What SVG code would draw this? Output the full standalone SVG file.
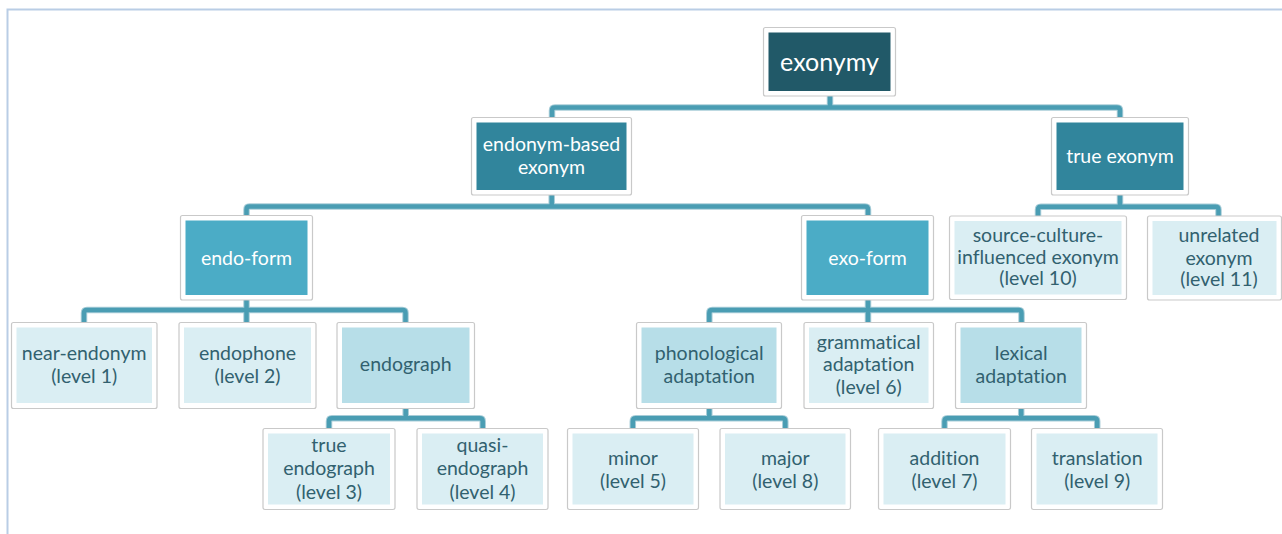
<svg xmlns="http://www.w3.org/2000/svg" width="1282" height="534" viewBox="0 0 1282 534">
<style>
.o{fill:#fff;stroke:#c9c9c9;stroke-width:1.2}
.d0{fill:#215968}.d1{fill:#31859c}.d2{fill:#4bacc6}.l1{fill:#b7dee8}.l2{fill:#daeef3}
text{font-family:Lato,"Liberation Sans",sans-serif;text-anchor:middle;font-size:19.5px;font-variant-ligatures:none}
.w{fill:#ffffff}.k{fill:#31616f}
.cu{fill:none;stroke:#a8cdd8;stroke-width:6.5;stroke-linejoin:round}
.cc{fill:none;stroke:#4a9db3;stroke-width:4.5;stroke-linejoin:round}
</style>
<defs>
<path id="conn" d="M830,96 V107.5 M552,117 V110.5 Q552,107.5 555,107.5 H1117 Q1120,107.5 1120,110.5 V117
M551.7,195 V206.5 M246.5,215 V209.5 Q246.5,206.5 249.5,206.5 H865 Q868,206.5 868,209.5 V215.5
M1120,195 V206.7 M1038,216 V209.7 Q1038,206.7 1041,206.7 H1215.5 Q1218.5,206.7 1218.5,209.7 V216
M246.5,300 V322.5 M84,322.5 V313 Q84,310 87,310 H402.5 Q405.5,310 405.5,313 V322.5
M868,300 V322.5 M709.3,322.5 V313 Q709.3,310 712.3,310 H1018.5 Q1021.5,310 1021.5,313 V322.5
M405.7,408.5 V418.3 M329,428.5 V421.3 Q329,418.3 332,418.3 H479.7 Q482.7,418.3 482.7,421.3 V428.5
M709.3,408.5 V418.3 M632.8,428.5 V421.3 Q632.8,418.3 635.8,418.3 H782.3 Q785.3,418.3 785.3,421.3 V428.5
M1021.2,408.5 V418.3 M944.5,428.5 V421.3 Q944.5,418.3 947.5,418.3 H1094.2 Q1097.2,418.3 1097.2,421.3 V428.5"/>
</defs>
<g id="frame"><path d="M7.5,534 V9.5 H1282" fill="none" stroke="#b9cde5" stroke-width="2"/></g>
<g id="connectors">
<use href="#conn" class="cu"/>
<use href="#conn" class="cc"/>
</g>
<g id="exonymy"><rect class="o" x="763.5" y="27.5" width="132" height="68.5" rx="2"/><rect class="d0" x="768.5" y="32.5" width="122" height="58.5"/><text class="w" x="829.5" y="70.5" style="font-size:25px">exonymy</text></g>
<g id="endonym-based"><rect class="o" x="471.5" y="117.5" width="160" height="77.5" rx="2"/><rect class="d1" x="476.5" y="122.5" width="150" height="67.5"/><text class="w" x="551.5" y="150.5">endonym-based</text><text class="w" x="551.5" y="173.5">exonym</text></g>
<g id="true-exonym"><rect class="o" x="1051.5" y="117.5" width="137" height="77.5" rx="2"/><rect class="d1" x="1056.5" y="122.5" width="127" height="67.5"/><text class="w" x="1120" y="162.5">true exonym</text></g>
<g id="endo-form"><rect class="o" x="180.5" y="215.5" width="132" height="84.5" rx="2"/><rect class="d2" x="185.5" y="220.5" width="122" height="74.5"/><text class="w" x="246.5" y="265">endo-form</text></g>
<g id="exo-form"><rect class="o" x="801.5" y="215.5" width="132" height="84.5" rx="2"/><rect class="d2" x="806.5" y="220.5" width="122" height="74.5"/><text class="w" x="867.5" y="265">exo-form</text></g>
<g id="source-culture"><rect class="o" x="949.5" y="216" width="177" height="83.5" rx="2"/><rect class="l2" x="954.5" y="221" width="167" height="73.5"/><text class="k" x="1038" y="241.5">source-culture-</text><text class="k" x="1038" y="263.5">influenced exonym</text><text class="k" x="1038" y="285">(level 10)</text></g>
<g id="unrelated"><rect class="o" x="1147.5" y="216" width="134" height="84" rx="2"/><rect class="l2" x="1152.5" y="221" width="124" height="74"/><text class="k" x="1219" y="241.5">unrelated</text><text class="k" x="1219" y="264.5">exonym</text><text class="k" x="1219" y="286">(level 11)</text></g>
<g id="near-endonym"><rect class="o" x="11.5" y="322.5" width="145.5" height="86" rx="2"/><rect class="l2" x="16.5" y="327.5" width="135.5" height="75.5"/><text class="k" x="84.2" y="360">near-endonym</text><text class="k" x="84.2" y="383">(level 1)</text></g>
<g id="endophone"><rect class="o" x="179" y="322.5" width="137" height="86" rx="2"/><rect class="l2" x="184" y="327.5" width="127" height="75.5"/><text class="k" x="247.5" y="360">endophone</text><text class="k" x="247.5" y="383">(level 2)</text></g>
<g id="endograph"><rect class="o" x="337" y="322.5" width="137.5" height="86" rx="2"/><rect class="l1" x="342" y="327.5" width="127.5" height="75.5"/><text class="k" x="405.7" y="371">endograph</text></g>
<g id="true-endograph"><rect class="o" x="263" y="428.5" width="132" height="81" rx="2"/><rect class="l2" x="268" y="433.5" width="122" height="71"/><text class="k" x="329" y="451.5">true</text><text class="k" x="329" y="475">endograph</text><text class="k" x="329" y="498.5">(level 3)</text></g>
<g id="quasi-endograph"><rect class="o" x="417" y="428.5" width="131" height="81" rx="2"/><rect class="l2" x="422" y="433.5" width="121" height="71"/><text class="k" x="482.5" y="451.5">quasi-</text><text class="k" x="482.5" y="475">endograph</text><text class="k" x="482.5" y="498.5">(level 4)</text></g>
<g id="phonological"><rect class="o" x="636.5" y="322.5" width="145" height="86" rx="2"/><rect class="l1" x="641.5" y="327.5" width="135" height="75.5"/><text class="k" x="709.2" y="360">phonological</text><text class="k" x="709.2" y="383">adaptation</text></g>
<g id="grammatical"><rect class="o" x="804" y="322.5" width="129.5" height="86" rx="2"/><rect class="l2" x="809" y="327.5" width="119.5" height="75.5"/><text class="k" x="868.7" y="348.5">grammatical</text><text class="k" x="868.7" y="371">adaptation</text><text class="k" x="868.7" y="394">(level 6)</text></g>
<g id="lexical"><rect class="o" x="955.5" y="322.5" width="131" height="86" rx="2"/><rect class="l1" x="960.5" y="327.5" width="121" height="75.5"/><text class="k" x="1021.2" y="360">lexical</text><text class="k" x="1021.2" y="383">adaptation</text></g>
<g id="minor"><rect class="o" x="567.5" y="428.5" width="131" height="81" rx="2"/><rect class="l2" x="572.5" y="433.5" width="121" height="71"/><text class="k" x="633" y="464.5">minor</text><text class="k" x="633" y="487.5">(level 5)</text></g>
<g id="major"><rect class="o" x="720" y="428.5" width="130.5" height="81" rx="2"/><rect class="l2" x="725" y="433.5" width="120.5" height="71"/><text class="k" x="785.3" y="464.5">major</text><text class="k" x="785.3" y="487.5">(level 8)</text></g>
<g id="addition"><rect class="o" x="878.5" y="428.5" width="132" height="81" rx="2"/><rect class="l2" x="883.5" y="433.5" width="122" height="71"/><text class="k" x="944.5" y="464.5">addition</text><text class="k" x="944.5" y="487.5">(level 7)</text></g>
<g id="translation"><rect class="o" x="1031.5" y="428.5" width="131" height="81" rx="2"/><rect class="l2" x="1036.5" y="433.5" width="121" height="71"/><text class="k" x="1097.2" y="464.5">translation</text><text class="k" x="1097.2" y="487.5">(level 9)</text></g>
</svg>
